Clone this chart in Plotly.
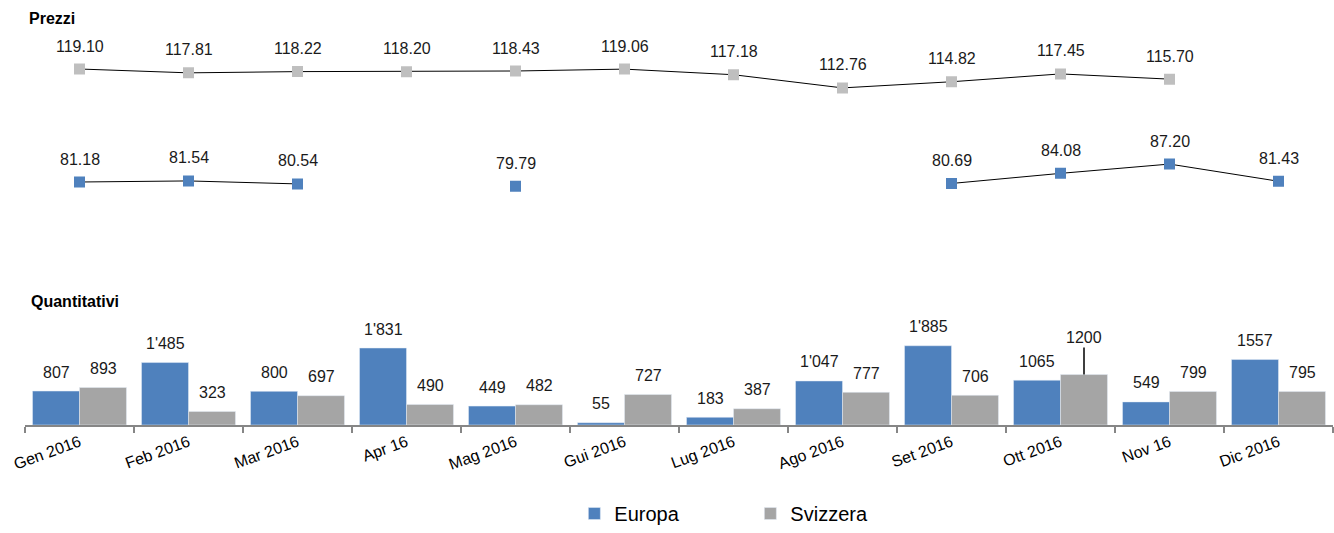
import plotly.graph_objects as go

# ----------------------
# Data
# ----------------------
months = ["Gen 2016", "Feb 2016", "Mar 2016", "Apr 16", "Mag 2016", "Gui 2016",
          "Lug 2016", "Ago 2016", "Set 2016", "Ott 2016", "Nov 16", "Dic 2016"]

prezzi_svizzera = [119.10, 117.81, 118.22, 118.20, 118.43, 119.06,
                   117.18, 112.76, 114.82, 117.45, 115.70, None]
prezzi_europa = [81.18, 81.54, 80.54, None, 79.79, None,
                 None, None, 80.69, 84.08, 87.20, 81.43]

qta_europa = [807, 1485, 800, 1831, 449, 55, 183, 1047, 1885, 1065, 549, 1557]
qta_svizzera = [893, 323, 697, 490, 482, 727, 387, 777, 706, 1200, 799, 795]
qta_europa_labels = ["807", "1'485", "800", "1'831", "449", "55", "183",
                     "1'047", "1'885", "1065", "549", "1557"]
qta_svizzera_labels = ["893", "323", "697", "490", "482", "727", "387",
                       "777", "706", "1200", "799", "795"]

BLUE = "#4F81BD"
GREY_BAR = "#A5A5A5"
GREY_MARK = "#BFBFBF"
FONT = "Liberation Sans, Arial, sans-serif"
LABEL_FONT = dict(size=16, color="#1a1a1a")

fig = go.Figure()

# Bars (quantities)
fig.add_trace(go.Bar(x=months, y=qta_europa, name="Europa", marker_color=BLUE,
                     xaxis="x", yaxis="y"))
fig.add_trace(go.Bar(x=months, y=qta_svizzera, name="Svizzera", marker_color=GREY_BAR,
                     xaxis="x", yaxis="y"))

# Lines (prices)
fig.add_trace(go.Scatter(x=months, y=prezzi_svizzera, mode="lines+markers",
                         line=dict(color="black", width=1),
                         marker=dict(symbol="square", size=11, color=GREY_MARK),
                         showlegend=False, connectgaps=False, xaxis="x2", yaxis="y2"))
fig.add_trace(go.Scatter(x=months, y=prezzi_europa, mode="lines+markers",
                         line=dict(color="black", width=1),
                         marker=dict(symbol="square", size=11, color=BLUE),
                         showlegend=False, connectgaps=False, xaxis="x2", yaxis="y2"))

annotations = []
# price labels
for series in (prezzi_svizzera, prezzi_europa):
    for m, v in zip(months, series):
        if v is None:
            continue
        annotations.append(dict(x=m, y=v, xref="x2", yref="y2", text=f"{v:.2f}",
                                showarrow=False, yanchor="middle", yshift=23,
                                font=LABEL_FONT))

# bar labels
half = 23.5
for m, v, t in zip(months, qta_europa, qta_europa_labels):
    annotations.append(dict(x=m, y=v, xref="x", yref="y", text=t, showarrow=False,
                            xshift=-half, yanchor="middle", yshift=19, font=LABEL_FONT))
for m, v, t in zip(months, qta_svizzera, qta_svizzera_labels):
    if v == max(qta_svizzera):
        # label lifted with a leader line
        annotations.append(dict(x=m, y=v, xref="x", yref="y", text=t, showarrow=True,
                                ax=0, ay=-37, arrowhead=0, arrowwidth=1.5,
                                arrowcolor="black", xshift=half, font=LABEL_FONT))
    else:
        annotations.append(dict(x=m, y=v, xref="x", yref="y", text=t, showarrow=False,
                                xshift=half, yanchor="middle", yshift=19, font=LABEL_FONT))

# section titles
annotations.append(dict(x=0, y=0.9847, xref="paper", yref="paper", text="<b>Prezzi</b>",
                        showarrow=False, xanchor="left", yanchor="middle", xshift=2,
                        font=dict(size=16, color="black")))
annotations.append(dict(x=0, y=0.4417, xref="paper", yref="paper", text="<b>Quantitativi</b>",
                        showarrow=False, xanchor="left", yanchor="middle", xshift=4,
                        font=dict(size=16, color="black")))

fig.update_layout(
    width=1334, height=533,
    margin=dict(l=25, r=1, t=10, b=0),
    paper_bgcolor="white", plot_bgcolor="white",
    font=dict(family=FONT, color="black"),
    barmode="group", bargap=0.138, bargroupgap=0,
    xaxis=dict(domain=[0, 1], anchor="y", categoryorder="array", categoryarray=months,
               range=[-0.5, 11.5], autorange=False,
               showline=True, linecolor="#868686", linewidth=2,
               ticks="outside", tickson="boundaries", ticklen=6, tickcolor="#868686",
               tickwidth=1.5, tickangle=-20, tickfont=dict(size=16),
               showgrid=False, automargin=False),
    yaxis=dict(domain=[0.2065, 0.3673], range=[0, 2000], visible=False,
               showgrid=False, zeroline=False),
    xaxis2=dict(domain=[0, 1], anchor="y2", matches="x", visible=False,
                showgrid=False, categoryorder="array", categoryarray=months),
    yaxis2=dict(domain=[0.6359, 0.9208], range=[75, 125], visible=False,
                showgrid=False, zeroline=False),
    legend=dict(orientation="h", x=0.42, xanchor="left",
                y=0.0, yanchor="bottom",
                font=dict(size=20), entrywidth=131, itemwidth=30,
                bgcolor="rgba(0,0,0,0)"),
    annotations=annotations,
)

fig.write_html("out.html", config={"displayModeBar": False},
               post_script="document.body.style.margin='0';")
